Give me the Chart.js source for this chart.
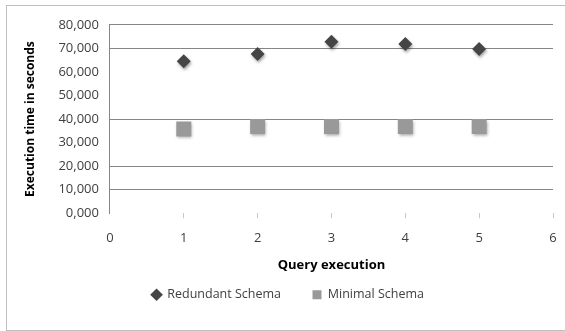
<!DOCTYPE html>
<html>
<head>
<meta charset="utf-8">
<script src="https://cdn.jsdelivr.net/npm/chart.js@4.4.1/dist/chart.umd.min.js"></script>
<style>
  html, body { margin: 0; padding: 0; background: #fff; overflow: hidden; }
  #box {
    position: absolute; left: 6px; top: 5px;
    width: 580px; height: 324px;
    border: 1px solid #bfbfbf;
  }
</style>
</head>
<body>
<div id="box"><canvas id="chart" width="580" height="324"></canvas></div>
<script>
// Data
const queries = [1, 2, 3, 4, 5];
const redundantSchema = [64500, 67600, 72800, 71800, 69700];
const minimalSchema = [35800, 36800, 36800, 36800, 36800];
const yTickLabels = ['0,000', '10,000', '20,000', '30,000', '40,000', '50,000', '60,000', '70,000', '80,000'];
// gridlines that show in the picture
const visibleGrid = [10000, 20000, 40000, 70000, 80000];

const FONT = 'Open Sans';
const TEXT = '#404040';

// soft drop shadow under the markers
const markerShadow = {
  id: 'markerShadow',
  beforeDatasetsDraw(chart) {
    const ctx = chart.ctx;
    ctx.save();
    ctx.shadowColor = 'rgba(0,0,0,0.35)';
    ctx.shadowBlur = 3;
    ctx.shadowOffsetX = 1;
    ctx.shadowOffsetY = 2;
  },
  afterDatasetsDraw(chart) {
    chart.ctx.restore();
  }
};

const ctx = document.getElementById('chart').getContext('2d');
new Chart(ctx, {
  type: 'scatter',
  data: {
    datasets: [{
      label: 'Redundant Schema',
      data: queries.map((q, i) => ({ x: q, y: redundantSchema[i] })),
      pointStyle: 'rectRot',
      pointRadius: 7,
      backgroundColor: '#454545',
      borderWidth: 0
    }, {
      label: 'Minimal Schema',
      data: queries.map((q, i) => ({ x: q, y: minimalSchema[i] })),
      pointStyle: 'rect',
      pointRadius: 10.6,
      backgroundColor: '#999999',
      borderWidth: 0
    }]
  },
  options: {
    responsive: false,
    animation: false,
    layout: { padding: { left: 16, right: 34, top: 7, bottom: 19 } },
    plugins: {
      tooltip: { enabled: false },
      legend: {
        position: 'bottom',
        labels: {
          usePointStyle: true,
          boxWidth: 9,
          boxHeight: 9,
          padding: 12,
          color: TEXT,
          font: { family: FONT, size: 12.5 },
          // extra room after the first entry, like the original
          generateLabels: chart => Chart.defaults.plugins.legend.labels.generateLabels(chart)
            .map((item, i) => i === 0 ? Object.assign(item, { text: item.text + '      ' }) : item)
        }
      }
    },
    scales: {
      x: {
        type: 'linear',
        min: 0,
        max: 6,
        ticks: {
          stepSize: 1,
          padding: 12,
          color: TEXT,
          font: { family: FONT, size: 13 }
        },
        grid: {
          drawOnChartArea: false,
          drawTicks: true,
          tickLength: 5,
          color: ctx => ctx.index === 0 ? 'rgba(0,0,0,0)' : '#c8c8c8'
        },
        border: { display: false },
        title: {
          display: true,
          text: 'Query execution',
          color: '#000',
          font: { family: FONT, size: 13, weight: 'bold' },
          padding: { top: 0, bottom: 3 }
        }
      },
      y: {
        min: 0,
        max: 80000,
        ticks: {
          stepSize: 10000,
          padding: 11,
          color: TEXT,
          font: { family: FONT, size: 13 },
          callback: (v, i) => yTickLabels[i]
        },
        grid: {
          drawTicks: false,
          lineWidth: 1,
          color: ctx => visibleGrid.includes(ctx.tick && ctx.tick.value) ? '#868686' : 'rgba(0,0,0,0)'
        },
        border: { display: true, color: '#868686' },
        title: {
          display: true,
          text: 'Execution time in seconds',
          color: '#000',
          font: { family: FONT, size: 12, weight: 'bold' },
          padding: { top: 0, bottom: 10 }
        }
      }
    }
  },
  plugins: [markerShadow]
});
</script>
</body>
</html>
